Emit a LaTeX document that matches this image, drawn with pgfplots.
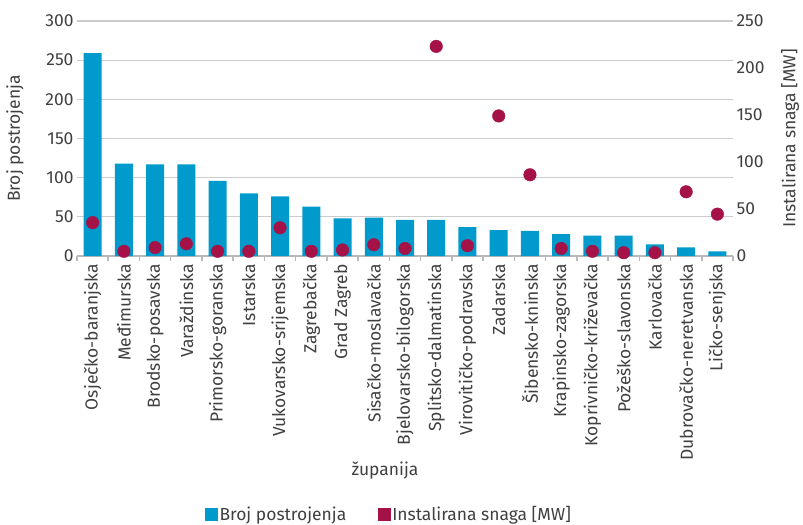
\documentclass[border=0pt]{standalone}
\usepackage{fontspec}
\setmainfont{Fira Sans}
\usepackage{pgfplots}
\pgfplotsset{compat=1.18}
\definecolor{barblue}{RGB}{0,154,204}
\definecolor{dotred}{RGB}{164,18,72}
\definecolor{gridgray}{RGB}{204,204,204}
\definecolor{axisgray}{RGB}{185,185,185}
\definecolor{txtgray}{RGB}{64,64,64}
\begin{document}
\begin{tikzpicture}[font=\fontsize{17.5}{20}\selectfont]
\useasboundingbox (-77bp,-269bp) rectangle (726bp,256bp);
\begin{axis}[
  at={(0,0)}, anchor=south west,
  scale only axis, width=656bp, height=235bp,
  xmin=-0.5, xmax=20.5, ymin=0, ymax=300,
  ytick={0,50,...,300},
  xtick={0,...,20},
  xticklabels={Osječko-baranjska,Međimurska,Brodsko-posavska,Varaždinska,Primorsko-goranska,Istarska,Vukovarsko-srijemska,Zagrebačka,Grad Zagreb,Sisačko-moslavačka,Bjelovarsko-bilogorska,Splitsko-dalmatinska,Virovitičko-podravska,Zadarska,Šibensko-kninska,Krapinsko-zagorska,Koprivničko-križevačka,Požeško-slavonska,Karlovačka,Dubrovačko-neretvanska,Ličko-senjska},
  x tick label style={rotate=90, anchor=east, text=txtgray},
  y tick label style={text=txtgray},
  /pgf/number format/assume math mode=true,
  major x tick style={draw=none},
  minor xtick={-0.5,0.5,...,20.5},
  minor x tick style={draw=axisgray, line width=1.5bp},
  major tick length=5bp, minor tick length=5bp,
  xtick align=outside,
  axis x line*=bottom, axis y line*=left,
  x axis line style={draw=axisgray, line width=2bp, -},
  y axis line style={draw=none},
  ytick style={draw=none},
  ymajorgrids, grid style={gridgray, line width=1.2bp},
  xlabel={županija},
  xlabel style={at={(axis description cs:0.4695,-0.911)}, anchor=center, text=txtgray},
  ylabel={Broj postrojenja},
  ylabel style={at={(axis description cs:-0.0945,0.5)}, anchor=center, text=txtgray},
  legend columns=2,
  legend style={at={(axis description cs:0.476,-1.10)}, anchor=center, draw=none, fill=none,
    text=txtgray, /tikz/every even column/.append style={column sep=30bp}},
  legend cell align=left,
]
\addlegendimage{only marks, mark=square*, mark size=6bp, barblue}
\addlegendentry{Broj postrojenja}
\addlegendimage{only marks, mark=square*, mark size=6bp, dotred}
\addlegendentry{Instalirana snaga [MW]}
\addplot[ybar, bar width=18bp, fill=barblue, draw=none, forget plot] coordinates {
(0,259) (1,118) (2,117) (3,117) (4,96) (5,80) (6,76) (7,63) (8,48) (9,49) (10,46)
(11,46) (12,37) (13,33) (14,32) (15,28) (16,26) (17,26) (18,15) (19,11) (20,6)};
\end{axis}
\begin{axis}[
  at={(0,0)}, anchor=south west,
  scale only axis, width=656bp, height=235bp,
  xmin=-0.5, xmax=20.5, ymin=0, ymax=250,
  ytick={0,50,...,250},
  axis y line*=right, axis x line=none,
  y axis line style={draw=none},
  ytick style={draw=none},
  y tick label style={text=txtgray},
  /pgf/number format/assume math mode=true,
  ylabel={Instalirana snaga [MW]},
  ylabel style={at={(axis description cs:1.087,0.5)}, anchor=center, rotate=0, text=txtgray},
]
\addplot[only marks, mark=*, mark size=6.3bp, dotred] coordinates {
(0,35.5) (1,5) (2,9) (3,13) (4,5) (5,5) (6,30) (7,5) (8,6.4) (9,12) (10,8)
(11,223) (12,11) (13,149) (14,86.4) (15,8) (16,5) (17,3.5) (18,3.5) (19,68.3) (20,44.5)};
\end{axis}
\end{tikzpicture}
\end{document}
